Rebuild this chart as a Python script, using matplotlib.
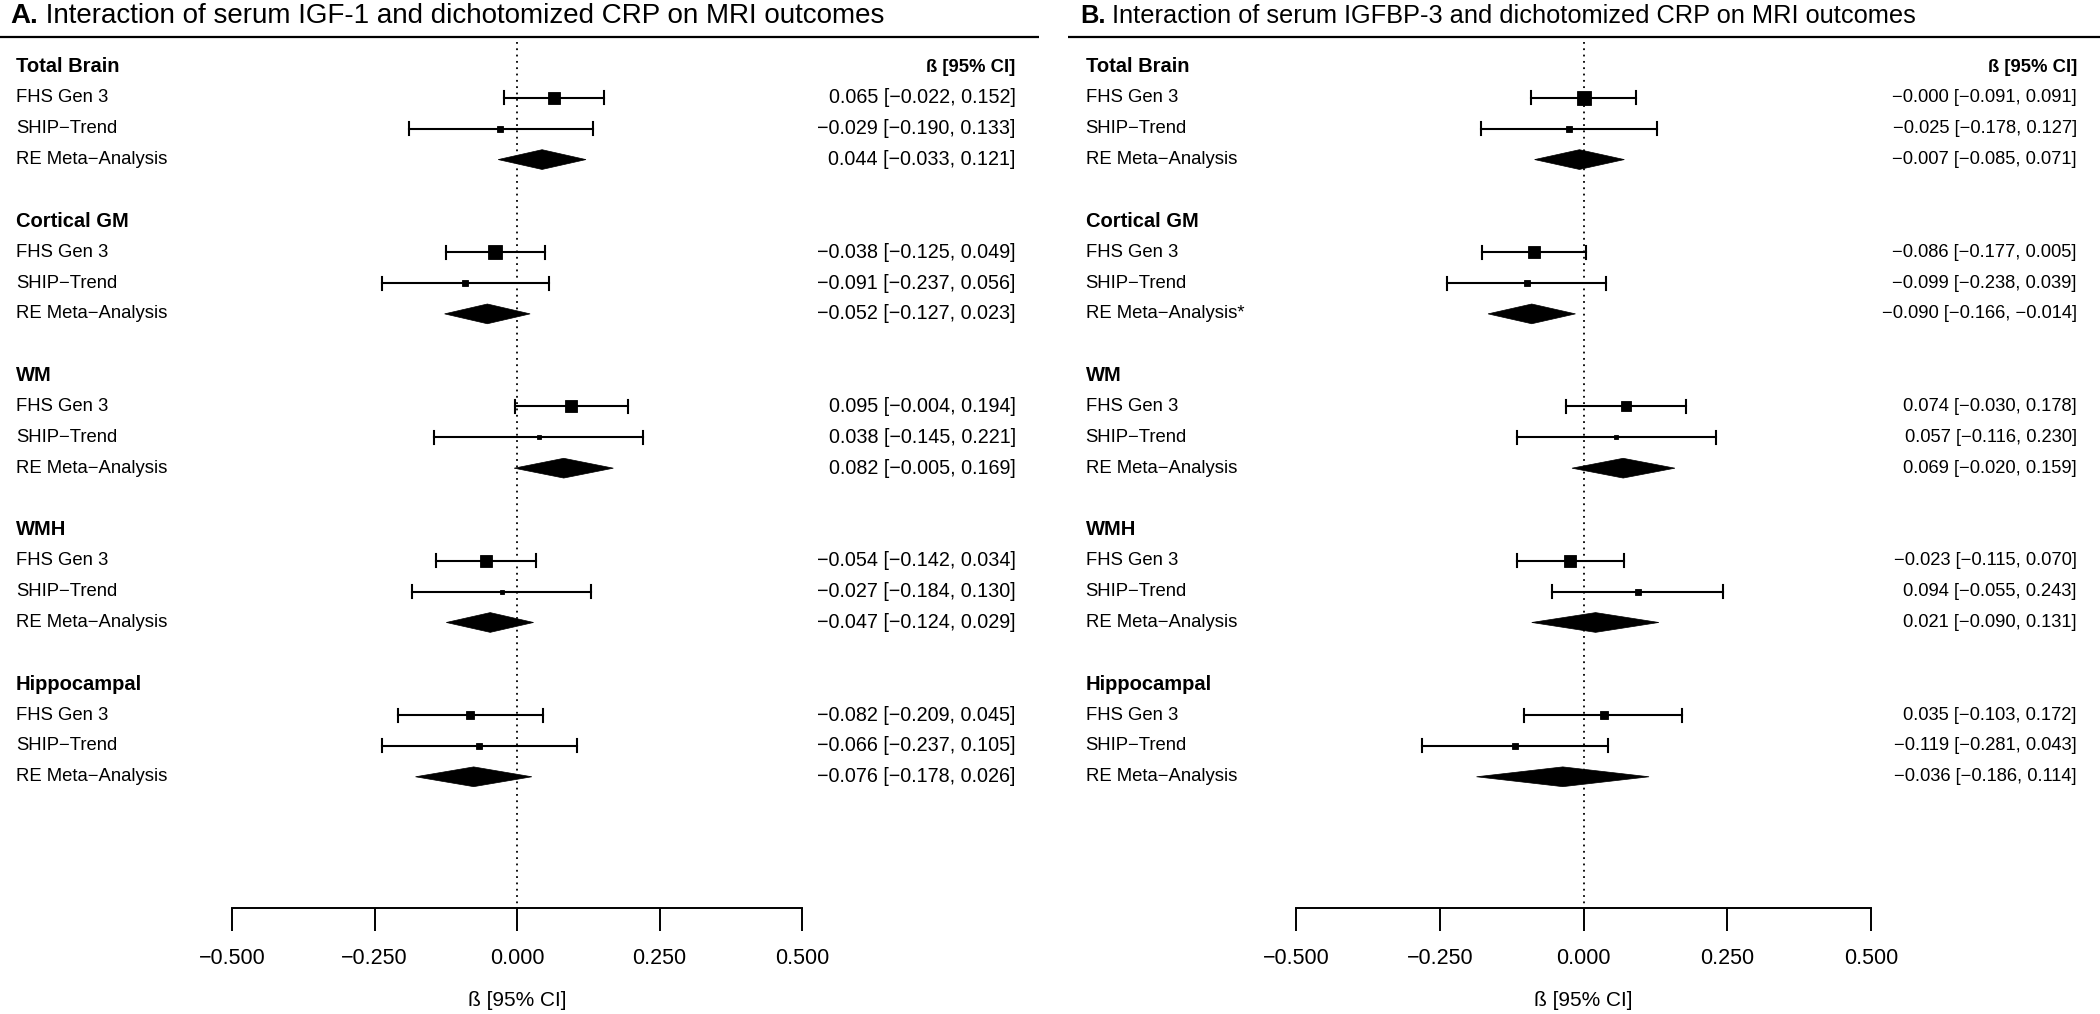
import numpy as np
import matplotlib.pyplot as plt
from matplotlib.patches import Polygon

plt.rcParams['font.family'] = ['Liberation Sans', 'DejaVu Sans']

# --- datos ---
outcomes = ['Total Brain', 'Cortical GM', 'WM', 'WMH', 'Hippocampal']
studies = ['FHS Gen 3', 'SHIP\u2212Trend']

# Panel A: IGF-1 x CRP  (estimacion, limite inferior, limite superior)
a_fhs = [(0.065, -0.022, 0.152), (-0.038, -0.125, 0.049), (0.095, -0.004, 0.194),
         (-0.054, -0.142, 0.034), (-0.082, -0.209, 0.045)]
a_ship = [(-0.029, -0.190, 0.133), (-0.091, -0.237, 0.056), (0.038, -0.145, 0.221),
          (-0.027, -0.184, 0.130), (-0.066, -0.237, 0.105)]
a_re = [(0.044, -0.033, 0.121), (-0.052, -0.127, 0.023), (0.082, -0.005, 0.169),
        (-0.047, -0.124, 0.029), (-0.076, -0.178, 0.026)]
a_fhs_w = [13, 14, 13, 13, 9]
a_ship_w = [6, 6, 5, 5, 6]
a_sig = [False, False, False, False, False]

# Panel B: IGFBP-3 x CRP
b_fhs = [(-0.0, -0.091, 0.091), (-0.086, -0.177, 0.005), (0.074, -0.030, 0.178),
         (-0.023, -0.115, 0.070), (0.035, -0.103, 0.172)]
b_ship = [(-0.025, -0.178, 0.127), (-0.099, -0.238, 0.039), (0.057, -0.116, 0.230),
          (0.094, -0.055, 0.243), (-0.119, -0.281, 0.043)]
b_re = [(-0.007, -0.085, 0.071), (-0.090, -0.166, -0.014), (0.069, -0.020, 0.159),
        (0.021, -0.090, 0.131), (-0.036, -0.186, 0.114)]
b_fhs_w = [14, 13, 11, 13, 8]
b_ship_w = [6, 6, 5, 6, 6]
b_sig = [False, True, False, False, False]

ticks = [-0.5, -0.25, 0.0, 0.25, 0.5]

W, H = 2100, 1014
ROW_TOP = 67.0     # pixel de la primera fila
ROW_H = 30.86      # pixeles por fila
AXIS_ROW = 27.25
FS = 13.3


def fmt(v):
    return f'{v:.3f}'.replace('-', '\u2212')


def ci_text(t):
    return f'{fmt(t[0])} [{fmt(t[1])}, {fmt(t[2])}]'


def panel(x0_px, x1_px, letra, titulo, fhs, ship, re, fhs_w, ship_w, sig,
          fs_tit, fs_val, xl, xr):
    ax = fig.add_axes([x0_px / W, 0, (x1_px - x0_px) / W, 1])
    ax.set_xlim(-0.5, 0.5)
    ax.set_ylim((H - ROW_TOP) / ROW_H, -ROW_TOP / ROW_H)
    ax.patch.set_visible(False)
    for s in ['top', 'left', 'right']:
        ax.spines[s].set_visible(False)
    ax.spines['bottom'].set_position(('data', AXIS_ROW))
    ax.spines['bottom'].set_bounds(-0.5, 0.5)
    ax.spines['bottom'].set_linewidth(1.4)
    ax.set_yticks([])
    ax.set_xticks(ticks)
    ax.set_xticklabels([fmt(t) for t in ticks])
    ax.tick_params(axis='x', direction='out', length=16.5, width=1.4, pad=12, labelsize=15.5)

    # titulo y linea superior
    t = ax.text(xl - 0.01, -1.65, letra, fontsize=fs_tit, fontweight='bold', va='center', ha='left')
    fig.canvas.draw()
    bb = t.get_window_extent()
    x_px = ax.transData.inverted().transform((bb.x1, 0))[0]
    ax.text(x_px, -1.65, titulo, fontsize=fs_tit, va='center', ha='left')
    ax.plot([xl - 0.03, xr + 0.04], [-0.97, -0.97], color='black', lw=1.6, clip_on=False,
            solid_capstyle='butt')

    ax.plot([0, 0], [-0.8, AXIS_ROW], color='black', lw=1.3, ls=(0, (1, 2.5)))

    for i, nombre in enumerate(outcomes):
        y0 = i * 5
        ax.text(xl, y0, nombre, fontsize=14.5, fontweight='bold', va='center', ha='left')
        if i == 0:
            ax.text(xr, y0, '\u00df [95% CI]', fontsize=FS, fontweight='bold', va='center', ha='right')
        for j, (datos, w) in enumerate([(fhs, fhs_w), (ship, ship_w)]):
            est, lo, hi = datos[i]
            y = y0 + 1 + j
            ax.plot([lo, hi], [y, y], color='black', lw=1.5)
            ax.plot([lo, lo], [y - 0.21, y + 0.21], color='black', lw=1.5)
            ax.plot([hi, hi], [y - 0.21, y + 0.21], color='black', lw=1.5)
            ax.plot([est], [y], marker='s', ms=w[i] / 1.39, color='black', mew=0.6)
            ax.text(xl, y, studies[j], fontsize=FS, va='center', ha='left')
            ax.text(xr, y, ci_text(datos[i]), fontsize=fs_val, va='center', ha='right')
        est, lo, hi = re[i]
        y = y0 + 3
        ax.add_patch(Polygon([(lo, y), (est, y - 0.32), (hi, y), (est, y + 0.32)],
                             closed=True, facecolor='black', edgecolor='black', lw=0.5))
        etiqueta = 'RE Meta\u2212Analysis' + ('*' if sig[i] else '')
        ax.text(xl, y, etiqueta, fontsize=FS, va='center', ha='left')
        ax.text(xr, y, ci_text(re[i]), fontsize=fs_val, va='center', ha='right')

    ax.text(0, 30.25, '\u00df [95% CI]', fontsize=15, va='center', ha='center')
    return ax


fig = plt.figure(figsize=(W / 100, H / 100), dpi=100)
panel(232, 802, 'A.', ' Interaction of serum IGF-1 and dichotomized CRP on MRI outcomes',
      a_fhs, a_ship, a_re, a_fhs_w, a_ship_w, a_sig, 20, 14.2, -0.879, 0.875)
panel(1296, 1871, 'B.', ' Interaction of serum IGFBP-3 and dichotomized CRP on MRI outcomes',
      b_fhs, b_ship, b_re, b_fhs_w, b_ship_w, b_sig, 18.3, 13.2, -0.866, 0.858)

fig.savefig('out.png', dpi=100)
